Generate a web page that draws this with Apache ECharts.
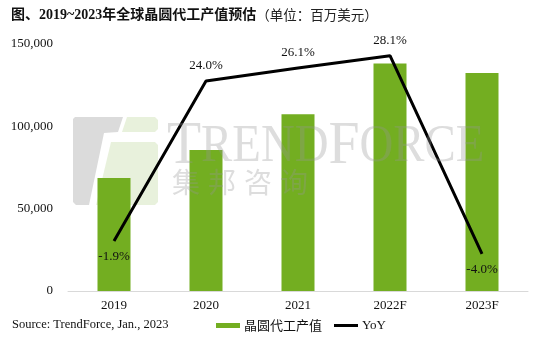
<!DOCTYPE html>
<html>
<head>
    <meta charset="utf-8">
    <title>ECharts</title>
    <script src="https://cdn.jsdelivr.net/npm/echarts@6/dist/echarts.min.js"></script>
    <style>
        html, body { margin: 0; padding: 0; background: #fff; }
    </style>
</head>
<body>
    <div id="main" style="width: 548px;height:346px;"></div>
    <script type="text/javascript">
        var years = ['2019', '2020', '2021', '2022F', '2023F'];
        var revenue = [68600, 85700, 107400, 138100, 132400];
        var yoy = [-1.9, 24.0, 26.1, 28.1, -4.0];
        var yoyLabelPos = ['bottom', 'top', 'top', 'top', 'bottom'];

        var serif = "'Liberation Serif', 'Noto Sans CJK SC', serif";
        var cjk = "'Noto Sans CJK SC', sans-serif";

        var chartDom = document.getElementById('main');
        var myChart = echarts.init(chartDom);
        var option;

        // 水印 集邦咨询
        var wmChars = ['集', '邦', '咨', '询'];
        var wm = wmChars.map(function (c, i) {
            return {
                type: 'text', z: 10, left: 172 + i * 36, top: 168,
                style: { text: c, font: '28px ' + cjk, fill: 'rgba(150,150,150,0.32)' }
            };
        });

        option = {
            animation: false,
            title: {
                text: '{b|图、2019~2023年全球晶圆代工产值预估}{n|（单位：百万美元）}',
                left: 6,
                top: 3,
                textStyle: {
                    rich: {
                        b: { fontFamily: serif, fontWeight: 'bold', fontSize: 14, color: '#111' },
                        n: { fontFamily: cjk, fontWeight: 'normal', fontSize: 13.5, color: '#222' }
                    }
                }
            },
            legend: {
                bottom: 9,
                left: 211,
                itemGap: 12,
                itemWidth: 24,
                itemHeight: 5,
                textStyle: { fontSize: 13, color: '#111', fontFamily: cjk, padding: [0, 0, 0, -1] },
                data: [
                    { name: '晶圆代工产值', icon: 'rect' },
                    { name: 'YoY', icon: 'path://M0,0L24,0L24,3L0,3Z', textStyle: { fontFamily: serif } }
                ]
            },
            grid: { left: 68, right: 20, top: 44, bottom: 55 },
            xAxis: {
                type: 'category',
                data: years,
                axisLine: { lineStyle: { color: '#d9d9d9', width: 1 } },
                axisTick: { show: false },
                axisLabel: { color: '#111', fontFamily: serif, fontSize: 13, margin: 8 }
            },
            yAxis: [{
                type: 'value',
                min: 0,
                max: 150000,
                interval: 50000,
                splitLine: { show: false },
                axisLine: { show: false },
                axisTick: { show: false },
                axisLabel: {
                    color: '#111', fontFamily: serif, fontSize: 13, margin: 15,
                    formatter: function (v) { return v.toLocaleString('en-US'); }
                }
            }, {
                type: 'value',
                min: -10,
                max: 30,
                show: false,
                splitLine: { show: false }
            }],
            graphic: [
                {
                    type: 'polygon', z: 0,
                    shape: { points: [[73, 119], [75, 117], [123, 117], [118, 132], [104, 133], [89, 205], [76, 205], [73, 202]] },
                    style: { fill: 'rgba(170,170,170,0.42)' }
                },
                {
                    type: 'polygon', z: 0,
                    shape: { points: [[127, 117], [155, 117], [158, 120], [158, 129], [155, 132], [122, 132]] },
                    style: { fill: 'rgba(140,185,80,0.2)' }
                },
                {
                    type: 'polygon', z: 0,
                    shape: { points: [[111, 142], [155, 142], [158, 145], [158, 202], [155, 205], [96, 205]] },
                    style: { fill: 'rgba(140,185,80,0.2)' }
                },
                {
                    type: 'text', z: 10, left: 167, top: 116, scaleX: 0.9,
                    style: {
                        text: '{a|T}{b|REND}{a|F}{b|ORCE}',
                        rich: {
                            a: { fontFamily: serif, fontSize: 62, fill: 'rgba(150,150,150,0.32)', color: 'rgba(150,150,150,0.32)' },
                            b: { fontFamily: serif, fontSize: 52, fill: 'rgba(150,150,150,0.32)', color: 'rgba(150,150,150,0.32)' }
                        },
                        fill: 'rgba(150,150,150,0.32)'
                    }
                },
                {
                    type: 'text', left: 12, top: 318,
                    style: { text: 'Source: TrendForce, Jan., 2023', font: '12.5px ' + serif, fill: '#111' }
                }
            ].concat(wm),
            series: [{
                name: '晶圆代工产值',
                type: 'bar',
                data: revenue,
                barWidth: 33,
                itemStyle: { color: '#73ae21' }
            }, {
                name: 'YoY',
                type: 'line',
                yAxisIndex: 1,
                data: yoy.map(function (v, i) {
                    return { value: v, label: { position: yoyLabelPos[i] } };
                }),
                showSymbol: true,
                symbol: 'circle',
                symbolSize: 0,
                lineStyle: { color: '#000', width: 3 },
                itemStyle: { color: '#000' },
                z: 5,
                label: {
                    show: true,
                    distance: 9,
                    fontFamily: serif,
                    fontSize: 13,
                    color: '#111',
                    formatter: function (p) { return p.value.toFixed(1) + '%'; }
                }
            }]
        };

        option && myChart.setOption(option);
    </script>
</body>
</html>
